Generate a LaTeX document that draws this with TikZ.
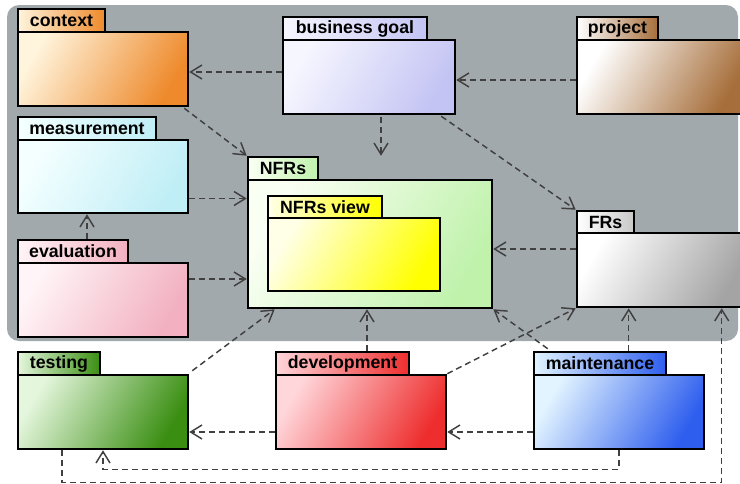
\documentclass[tikz,border=0pt]{standalone}
\usepackage{fontspec}
\setmainfont{Liberation Sans}
\usetikzlibrary{arrows.meta,fit}

\definecolor{bggray}{HTML}{A2A9AC}
\definecolor{ctxA}{HTML}{FFF4DC}   \definecolor{ctxB}{HTML}{EE8A2C}
\definecolor{goalA}{HTML}{F6F6FF}  \definecolor{goalB}{HTML}{C4C4F4}
\definecolor{projA}{HTML}{FFFFFF}  \definecolor{projB}{HTML}{A66E3A}
\definecolor{measA}{HTML}{F4FFFF}  \definecolor{measB}{HTML}{C0EEF6}
\definecolor{evalA}{HTML}{FFF4F7}  \definecolor{evalB}{HTML}{F2B0C0}
\definecolor{nfrA}{HTML}{FAFFF4}   \definecolor{nfrB}{HTML}{C0F2AC}
\definecolor{viewA}{HTML}{FFFFE8}  \definecolor{viewB}{HTML}{FFFF00}
\definecolor{frA}{HTML}{FFFFFF}    \definecolor{frB}{HTML}{A4A4A4}
\definecolor{testA}{HTML}{E4F6DC}  \definecolor{testB}{HTML}{3A8E12}
\definecolor{devA}{HTML}{FFD6DA}   \definecolor{devB}{HTML}{EE2E2E}
\definecolor{mntA}{HTML}{E2F4FF}   \definecolor{mntB}{HTML}{2E5EEE}

\begin{document}
\begin{tikzpicture}[x=0.75pt, y=-0.75pt,
  pkg/.style 2 args={draw=black, line width=1.9pt, inner sep=0pt,
    left color=#1, right color=#2, shading angle=60},
  pkgtab/.style 2 args={draw=black, line width=1.9pt, inner sep=0pt,
    left color=#1, right color=#2},
  tabtext/.style={text=black, font=\fontsize{13.3}{16}\selectfont\bfseries},
  dep/.style={draw=black!75, line width=1.1pt, dash pattern=on 4.5pt off 3pt,
    -{Straight Barb[length=8.5pt,width=10.5pt]}}]

  \useasboundingbox (0,0) rectangle (740,483);
  % Grey frame behind the upper packages
  \fill[bggray, rounded corners=9pt] (7,5) rectangle (738,341);

  % Packages: tab first, then body
  \node[pkgtab={ctxA}{ctxB}, fit={(18,9) (105,32)}, label={[tabtext]center:context}] (context-tab) {};
  \node[pkg={ctxA}{ctxB}, fit={(18,32) (188,106)}] (context) {};
  \node[pkgtab={goalA}{goalB}, fit={(283,17) (427,40)}, label={[tabtext]center:business goal}] (goal-tab) {};
  \node[pkg={goalA}{goalB}, fit={(283,40) (455,114)}] (goal) {};
  \node[pkgtab={projA}{projB}, fit={(577,17) (658,40)}, label={[tabtext]center:project}] (project-tab) {};
  \node[pkg={projA}{projB}, fit={(577,40) (746,114)}] (project) {};
  \node[pkgtab={measA}{measB}, fit={(18,117) (156,140)}, label={[tabtext]center:measurement}] (measure-tab) {};
  \node[pkg={measA}{measB}, fit={(18,140) (188,213)}] (measure) {};
  \node[pkgtab={evalA}{evalB}, fit={(18,240) (128,263)}, label={[tabtext]center:evaluation}] (eval-tab) {};
  \node[pkg={evalA}{evalB}, fit={(18,263) (188,337)}] (eval) {};
  % NFRs with the nested view
  \node[pkgtab={nfrA}{nfrB}, fit={(248,157) (318,180)}, label={[tabtext]center:NFRs}] (nfrs-tab) {};
  \node[pkg={nfrA}{nfrB}, fit={(248,180) (492,308)}] (nfrs) {};
  \node[pkgtab={viewA}{viewB}, fit={(268,196) (382,218)}, label={[tabtext]center:NFRs view}] (view-tab) {};
  \node[pkg={viewA}{viewB}, fit={(268,218) (440,291)}] (view) {};
  \node[pkgtab={frA}{frB!60}, fit={(577,211) (634,233)}, label={[tabtext]center:FRs}] (frs-tab) {};
  \node[pkg={frA}{frB}, fit={(577,233) (746,307)}] (frs) {};
  % Lower row
  \node[pkgtab={testA}{testB}, fit={(18,352) (100,375)}, label={[tabtext]center:testing}] (testing-tab) {};
  \node[pkg={testA}{testB}, fit={(18,375) (188,449)}] (testing) {};
  \node[pkgtab={devA}{devB}, fit={(276,352) (409,375)}, label={[tabtext]center:development}] (devel-tab) {};
  \node[pkg={devA}{devB}, fit={(276,375) (446,449)}] (devel) {};
  \node[pkgtab={mntA}{mntB}, fit={(534,352) (666,375)}, label={[tabtext]center:maintenance}] (maint-tab) {};
  \node[pkg={mntA}{mntB}, fit={(534,375) (704,449)}] (maint) {};

  % Dependencies
  \draw[dep] ([shift={(0,-5)}]goal.west) -- ([shift={(0,-5)}]goal.west -| context.east);
  \draw[dep] ([shift={(0,3)}]project.west) -- ([shift={(0,3)}]project.west -| goal.east);
  \draw[dep] ([shift={(-5,1)}]context.south east) -- (nfrs-tab.north west);
  \draw[dep] ([shift={(12,2)}]goal.south) -- ([shift={(12,0)}]goal.south |- nfrs-tab.north);
  \draw[dep] ([shift={(-15,1)}]goal.south east) -- (frs-tab.north west);
  \draw[dep] ([shift={(0,22)}]measure.east) -- ([shift={(0,22)}]measure.east -| nfrs.west);
  \draw[dep] ([shift={(-16,0)}]measure.south |- eval-tab.north) -- ([shift={(-16,0)}]measure.south);
  \draw[dep] ([shift={(0,-21)}]eval.east) -- ([shift={(0,-21)}]eval.east -| nfrs.west);
  \draw[dep] ([shift={(0,-21)}]frs.west) -- ([shift={(0,-21)}]frs.west -| nfrs.east);
  \draw[dep] ([shift={(3,-3)}]testing.north east) -- ([shift={(28,0)}]nfrs.south west);
  \draw[dep] ([shift={(-3,0)}]nfrs.south |- devel-tab.north) -- ([shift={(-3,0)}]nfrs.south);
  \draw[dep] ([shift={(15,-2)}]maint-tab.north west) -- (nfrs.south east);
  \draw[dep] (devel.north east) -- (frs.south west);
  \draw[dep] ([shift={(53,0)}]frs.south west |- maint-tab.north) -- ([shift={(53,0)}]frs.south west);
  \draw[dep] ([shift={(0,20)}]devel.west) -- ([shift={(0,20)}]devel.west -| testing.east);
  \draw[dep] ([shift={(0,20)}]maint.west) -- ([shift={(0,20)}]maint.west -| devel.east);
  % Long returns along the bottom
  \draw[dep] (maint.south) -- ++(0,19) -| (testing.south);
  \draw[dep] ([shift={(-41,0)}]testing.south) -- ++(0,32) -| ([shift={(146,0)}]frs.south west);
\end{tikzpicture}
\end{document}
